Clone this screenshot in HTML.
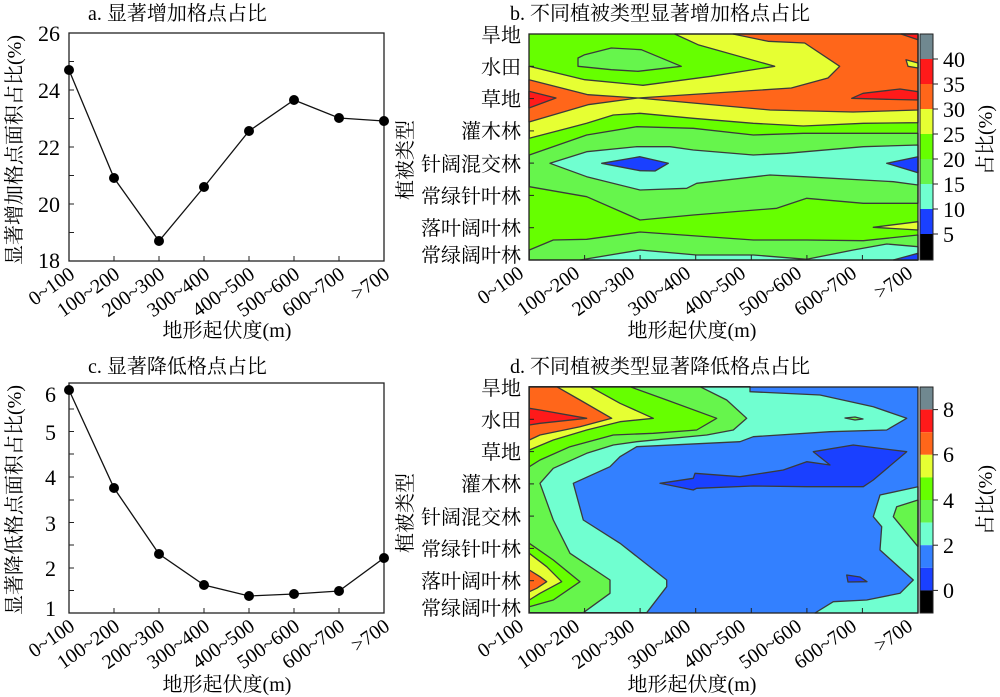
<!DOCTYPE html>
<html><head><meta charset="utf-8"><style>
html,body{margin:0;padding:0;background:#fff;}
svg{display:block;font-family:"Liberation Serif","Noto Serif CJK SC",serif;}
</style></head><body>
<svg width="1000" height="697" viewBox="0 0 1000 697" xmlns="http://www.w3.org/2000/svg">
<rect width="1000" height="697" fill="#fff"/>

<!-- ===== Panel a ===== -->
<text x="88" y="20" font-size="20">a. 显著增加格点占比</text>
<rect x="69" y="33" width="315" height="228" fill="none" stroke="#222" stroke-width="1.3"/>
<g stroke="#222" stroke-width="1">
<line x1="69" y1="61.5" x2="74" y2="61.5"/><line x1="69" y1="90" x2="74" y2="90"/><line x1="69" y1="118.5" x2="74" y2="118.5"/><line x1="69" y1="147" x2="74" y2="147"/><line x1="69" y1="175.5" x2="74" y2="175.5"/><line x1="69" y1="204" x2="74" y2="204"/><line x1="69" y1="232.5" x2="74" y2="232.5"/>
<line x1="114" y1="261" x2="114" y2="256"/><line x1="159" y1="261" x2="159" y2="256"/><line x1="204" y1="261" x2="204" y2="256"/><line x1="249" y1="261" x2="249" y2="256"/><line x1="294" y1="261" x2="294" y2="256"/><line x1="339" y1="261" x2="339" y2="256"/>
</g>
<g font-size="22" text-anchor="end">
<text x="60" y="41">26</text><text x="60" y="98">24</text><text x="60" y="155">22</text><text x="60" y="212">20</text><text x="60" y="268">18</text>
</g>
<polyline points="69,70 114,178 159,241 204,187 249,131 294,100 339,118 384,121" fill="none" stroke="#111" stroke-width="1.3"/>
<g fill="#000"><circle cx="69" cy="70" r="5"/><circle cx="114" cy="178" r="5"/><circle cx="159" cy="241" r="5"/><circle cx="204" cy="187" r="5"/><circle cx="249" cy="131" r="5"/><circle cx="294" cy="100" r="5"/><circle cx="339" cy="118" r="5"/><circle cx="384" cy="121" r="5"/></g>
<text transform="translate(21,150) rotate(-90)" font-size="20" text-anchor="middle">显著增加格点面积占比(%)</text>
<g font-size="20" text-anchor="end">
<text transform="translate(76,277) rotate(-35)">0~100</text>
<text transform="translate(121,277) rotate(-35)">100~200</text>
<text transform="translate(166,277) rotate(-35)">200~300</text>
<text transform="translate(211,277) rotate(-35)">300~400</text>
<text transform="translate(256,277) rotate(-35)">400~500</text>
<text transform="translate(301,277) rotate(-35)">500~600</text>
<text transform="translate(346,277) rotate(-35)">600~700</text>
<text transform="translate(391,277) rotate(-35)">&gt;700</text>
</g>
<text x="227" y="337" font-size="20" text-anchor="middle">地形起伏度(m)</text>

<!-- ===== Panel c ===== -->
<text x="88" y="373" font-size="20">c. 显著降低格点占比</text>
<rect x="69" y="383" width="315" height="230" fill="none" stroke="#222" stroke-width="1.3"/>
<g stroke="#222" stroke-width="1">
<line x1="69" y1="409" x2="74" y2="409"/><line x1="69" y1="431.5" x2="74" y2="431.5"/><line x1="69" y1="454" x2="74" y2="454"/><line x1="69" y1="477" x2="74" y2="477"/><line x1="69" y1="500" x2="74" y2="500"/><line x1="69" y1="522.5" x2="74" y2="522.5"/><line x1="69" y1="545" x2="74" y2="545"/><line x1="69" y1="568" x2="74" y2="568"/><line x1="69" y1="590.5" x2="74" y2="590.5"/>
<line x1="114" y1="613" x2="114" y2="608"/><line x1="159" y1="613" x2="159" y2="608"/><line x1="204" y1="613" x2="204" y2="608"/><line x1="249" y1="613" x2="249" y2="608"/><line x1="294" y1="613" x2="294" y2="608"/><line x1="339" y1="613" x2="339" y2="608"/>
</g>
<g font-size="22" text-anchor="end">
<text x="56" y="402">6</text><text x="56" y="440">5</text><text x="56" y="485">4</text><text x="56" y="531">3</text><text x="56" y="576">2</text><text x="56" y="616">1</text>
</g>
<polyline points="69,390 114,488 159,554 204,585 249,596 294,594 339,591 384,558" fill="none" stroke="#111" stroke-width="1.3"/>
<g fill="#000"><circle cx="69" cy="390" r="5"/><circle cx="114" cy="488" r="5"/><circle cx="159" cy="554" r="5"/><circle cx="204" cy="585" r="5"/><circle cx="249" cy="596" r="5"/><circle cx="294" cy="594" r="5"/><circle cx="339" cy="591" r="5"/><circle cx="384" cy="558" r="5"/></g>
<text transform="translate(21,500) rotate(-90)" font-size="20" text-anchor="middle">显著降低格点面积占比(%)</text>
<g font-size="20" text-anchor="end">
<text transform="translate(76,629) rotate(-35)">0~100</text>
<text transform="translate(121,629) rotate(-35)">100~200</text>
<text transform="translate(166,629) rotate(-35)">200~300</text>
<text transform="translate(211,629) rotate(-35)">300~400</text>
<text transform="translate(256,629) rotate(-35)">400~500</text>
<text transform="translate(301,629) rotate(-35)">500~600</text>
<text transform="translate(346,629) rotate(-35)">600~700</text>
<text transform="translate(391,629) rotate(-35)">&gt;700</text>
</g>
<text x="227" y="691" font-size="20" text-anchor="middle">地形起伏度(m)</text>

<!-- ===== Panel b ===== -->
<text x="510" y="20" font-size="20">b. 不同植被类型显著增加格点占比</text>
<g stroke="#3a3a3a" stroke-width="1.3" stroke-linejoin="round">
<rect x="529" y="34" width="389" height="226" fill="#66ff00" stroke="none"/>
<polygon fill="#e6ff33" points="674.7,34 918,34 918,122.7 863.3,123.3 803.3,126 753.3,123.3 693.3,118.3 640,113.3 613.3,115 586.7,123.3 529.3,138.3 529,66.3 584.7,79.7 643,85.3 711,76.3 774.7,66.3 698,44.7"/>
<polygon fill="#66f54c" points="578,58 584.7,54.7 611.3,48 641.3,49.7 681.3,66.3 638,71.3 611.3,69.7 578,66.3"/>
<polygon fill="#ff661a" points="733,34 918,34 918,110 853,112 770,110 693,103 638,98 714.7,93 791.3,88 828,78 839.7,66.3 804.7,43 768,41.3"/>
<polygon fill="#ff661a" points="529,79.7 588,94.7 638,98 588,104.7 529,122"/>
<polygon fill="#ff1a1a" points="529,91.3 556,98 529,108"/>
<polygon fill="#ff1a1a" points="851.7,98.3 863,93.3 900,89 918,91.7 918,100 886.7,99.3"/>
<polygon fill="#ff1a1a" points="901,34 918,39.7 918,34"/>
<polygon fill="#e6ff33" points="906,59.7 918,63 918,68 908,66.3"/>
<polygon fill="#66f54c" points="529.3,155 586.7,135 636.7,126.7 693.3,128.3 753.3,135 803.3,133.3 863.3,133.3 918,133.3 918,203.3 863.3,203.3 806.7,198.3 776.7,208.3 693.3,215 640,220 586.7,196.7 529.3,186.7"/>
<polygon fill="#70ffd0" points="550,163.3 586.7,151.7 636.7,146.7 670,146.7 693.3,150 753.3,155 786.7,153.3 863.3,146.7 918,145 918,185 893.3,181.7 863.3,180 803.3,176.7 770,175 696.7,183.3 686.7,188.3 640,190 586.7,176.7"/>
<polygon fill="#1a40ff" points="601.7,163.3 640,156.7 668.3,163.3 655,171 640,170.7"/>
<polygon fill="#1a40ff" points="886.7,163.3 918,156.7 918,172.7"/>
<polygon fill="#66f54c" points="529.3,250 553.3,240 586.7,239.3 640,232 753.3,240 806.7,240 863.3,240.7 918,235 918,260 529.3,260"/>
<polygon fill="#e6ff33" points="873.3,227.3 918,221.7 918,230"/>
<polygon fill="#70ffd0" points="580,260 640,250 696.7,255 753.3,255 806.7,259.3 853.3,250 886.7,244 918,246.7 918,260"/>
<polygon fill="#1a40ff" points="893.3,260 918,253.3 918,260"/>
</g>
<rect x="529" y="34" width="389" height="226" fill="none" stroke="#222" stroke-width="1.3"/>
<g stroke="#222" stroke-width="1">
<line x1="584.6" y1="260" x2="584.6" y2="255"/><line x1="640.1" y1="260" x2="640.1" y2="255"/><line x1="695.7" y1="260" x2="695.7" y2="255"/><line x1="751.3" y1="260" x2="751.3" y2="255"/><line x1="806.9" y1="260" x2="806.9" y2="255"/><line x1="862.4" y1="260" x2="862.4" y2="255"/>
<line x1="529" y1="66.3" x2="534" y2="66.3"/><line x1="529" y1="98.6" x2="534" y2="98.6"/><line x1="529" y1="130.9" x2="534" y2="130.9"/><line x1="529" y1="163.1" x2="534" y2="163.1"/><line x1="529" y1="195.4" x2="534" y2="195.4"/><line x1="529" y1="227.7" x2="534" y2="227.7"/>
</g>
<g font-size="20" text-anchor="end">
<text x="521" y="42">旱地</text><text x="521" y="74">水田</text><text x="521" y="106">草地</text><text x="521" y="138">灌木林</text><text x="521" y="171">针阔混交林</text><text x="521" y="203">常绿针叶林</text><text x="521" y="235">落叶阔叶林</text><text x="521" y="262">常绿阔叶林</text>
</g>
<text transform="translate(412,160) rotate(-90)" font-size="20" text-anchor="middle">植被类型</text>
<g font-size="20" text-anchor="end">
<text transform="translate(525,276) rotate(-35)">0~100</text>
<text transform="translate(581,276) rotate(-35)">100~200</text>
<text transform="translate(636,276) rotate(-35)">200~300</text>
<text transform="translate(692,276) rotate(-35)">300~400</text>
<text transform="translate(747,276) rotate(-35)">400~500</text>
<text transform="translate(803,276) rotate(-35)">500~600</text>
<text transform="translate(858,276) rotate(-35)">600~700</text>
<text transform="translate(914,276) rotate(-35)">&gt;700</text>
</g>
<text x="692" y="337" font-size="20" text-anchor="middle">地形起伏度(m)</text>
<!-- colorbar b -->
<rect x="920" y="34" width="13" height="25" fill="#708890"/>
<rect x="920" y="59" width="13" height="25" fill="#ff1a1a"/>
<rect x="920" y="84" width="13" height="25" fill="#ff661a"/>
<rect x="920" y="109" width="13" height="25" fill="#e6ff33"/>
<rect x="920" y="134" width="13" height="25" fill="#66ff00"/>
<rect x="920" y="159" width="13" height="25" fill="#66f54c"/>
<rect x="920" y="184" width="13" height="25" fill="#70ffd0"/>
<rect x="920" y="209" width="13" height="25" fill="#1a40ff"/>
<rect x="920" y="234" width="13" height="26" fill="#000"/>
<rect x="920" y="34" width="13" height="226" fill="none" stroke="#222" stroke-width="1"/>
<g stroke="#222"><line x1="933" y1="59" x2="938" y2="59"/><line x1="933" y1="84" x2="938" y2="84"/><line x1="933" y1="109" x2="938" y2="109"/><line x1="933" y1="134" x2="938" y2="134"/><line x1="933" y1="159" x2="938" y2="159"/><line x1="933" y1="184" x2="938" y2="184"/><line x1="933" y1="209" x2="938" y2="209"/><line x1="933" y1="234" x2="938" y2="234"/></g>
<g font-size="22"><text x="943" y="67">40</text><text x="943" y="92">35</text><text x="943" y="117">30</text><text x="943" y="142">25</text><text x="943" y="167">20</text><text x="943" y="192">15</text><text x="943" y="217">10</text><text x="943" y="242">5</text></g>
<text transform="translate(992,140) rotate(-90)" font-size="20" text-anchor="middle">占比(%)</text>

<!-- ===== Panel d ===== -->
<text x="510" y="373" font-size="20">d. 不同植被类型显著降低格点占比</text>
<g stroke="#3a3a3a" stroke-width="1.3" stroke-linejoin="round">
<rect x="529" y="387" width="389" height="226" fill="#3380ff" stroke="none"/>
<polygon fill="#70ffd0" points="529.3,386.7 750,386.7 750,391.7 820,395 873.3,406.7 906.7,418.3 886.7,430 830,431.7 753.3,436.7 740,441.7 636.7,446.7 620,456.7 610,466.7 573.3,483.3 583.3,520 620,543.3 666.7,580 666.7,586.7 646.7,612.7 529.3,612.7"/>
<polygon fill="#70ffd0" points="918,486.7 880,495 873.3,516.7 881.7,526.7 880,550 913.3,580 900,593.3 866.7,600 833.3,601.7 815,613 918,613"/>
<polygon fill="#66f54c" points="918,500 896.7,506.7 893.3,516.7 918,546.7"/>
<polygon fill="#66f54c" points="529.3,386.7 700,386.7 726.7,400 746.7,418.3 733.3,430 706.7,435 636.7,441.7 613.3,445 586.7,453.3 553.3,468.3 540,483.3 553.3,520 570,553.3 610,580 610,593.3 583.3,612.7 529.3,612.7"/>
<polygon fill="#66ff00" points="529.3,386.7 630,386.7 666.7,400 716.7,418.3 696.7,430 653.3,433.3 613.3,435 570,446.7 540,460 529.3,466.7"/>
<polygon fill="#66ff00" points="529.3,543.3 553.3,560 580,581.7 553.3,600 529.3,606.7"/>
<polygon fill="#e6ff33" points="529.3,386.7 590,386.7 620,403.3 653.3,418.3 620,421.7 586.7,430 553.3,440 529.3,450"/>
<polygon fill="#e6ff33" points="529.3,553.3 546.7,566.7 561.7,581.7 540,593.3 529.3,600"/>
<polygon fill="#ff661a" points="529.3,386.7 556.7,386.7 580,400 611.7,418.3 580,426.7 540,435 529.3,440"/>
<polygon fill="#ff661a" points="529.3,570 540,576.7 546.7,581.7 536.7,588.3 529.3,591.7"/>
<polygon fill="#ff1a1a" points="529.3,408.3 540,410 586.7,418.3 540,423.3 529.3,425"/>
<polygon fill="#1a40ff" points="660,483.3 693.3,478.3 695,473.3 740,476.7 783.3,470 806.7,461.7 830,465 813.3,451.7 853.3,445 906.7,451.7 873.3,480 863.3,486.7 806.7,486.7 753.3,486 696.7,488.3 693.3,490"/>
<polygon fill="#1a40ff" points="846.7,575 860,577 867,581.7 848,582"/>
<polygon fill="#66f54c" points="845,418 855,417 863,419 855,420"/>
</g>
<rect x="529" y="387" width="389" height="226" fill="none" stroke="#222" stroke-width="1.3"/>
<g stroke="#222" stroke-width="1">
<line x1="584.6" y1="613" x2="584.6" y2="608"/><line x1="640.1" y1="613" x2="640.1" y2="608"/><line x1="695.7" y1="613" x2="695.7" y2="608"/><line x1="751.3" y1="613" x2="751.3" y2="608"/><line x1="806.9" y1="613" x2="806.9" y2="608"/><line x1="862.4" y1="613" x2="862.4" y2="608"/>
<line x1="529" y1="419.3" x2="534" y2="419.3"/><line x1="529" y1="451.6" x2="534" y2="451.6"/><line x1="529" y1="483.9" x2="534" y2="483.9"/><line x1="529" y1="516.1" x2="534" y2="516.1"/><line x1="529" y1="548.4" x2="534" y2="548.4"/><line x1="529" y1="580.7" x2="534" y2="580.7"/>
</g>
<g font-size="20" text-anchor="end">
<text x="521" y="395">旱地</text><text x="521" y="427">水田</text><text x="521" y="459">草地</text><text x="521" y="491">灌木林</text><text x="521" y="524">针阔混交林</text><text x="521" y="556">常绿针叶林</text><text x="521" y="588">落叶阔叶林</text><text x="521" y="615">常绿阔叶林</text>
</g>
<text transform="translate(412,513) rotate(-90)" font-size="20" text-anchor="middle">植被类型</text>
<g font-size="20" text-anchor="end">
<text transform="translate(525,629) rotate(-35)">0~100</text>
<text transform="translate(581,629) rotate(-35)">100~200</text>
<text transform="translate(636,629) rotate(-35)">200~300</text>
<text transform="translate(692,629) rotate(-35)">300~400</text>
<text transform="translate(747,629) rotate(-35)">400~500</text>
<text transform="translate(803,629) rotate(-35)">500~600</text>
<text transform="translate(858,629) rotate(-35)">600~700</text>
<text transform="translate(914,629) rotate(-35)">&gt;700</text>
</g>
<text x="692" y="691" font-size="20" text-anchor="middle">地形起伏度(m)</text>
<!-- colorbar d -->
<rect x="920" y="387" width="13" height="22.6" fill="#708890"/>
<rect x="920" y="409.6" width="13" height="22.6" fill="#ff1a1a"/>
<rect x="920" y="432.2" width="13" height="22.6" fill="#ff661a"/>
<rect x="920" y="454.8" width="13" height="22.6" fill="#e6ff33"/>
<rect x="920" y="477.4" width="13" height="22.6" fill="#66ff00"/>
<rect x="920" y="500" width="13" height="22.6" fill="#66f54c"/>
<rect x="920" y="522.6" width="13" height="22.6" fill="#70ffd0"/>
<rect x="920" y="545.2" width="13" height="22.6" fill="#3380ff"/>
<rect x="920" y="567.8" width="13" height="22.6" fill="#1a40ff"/>
<rect x="920" y="590.4" width="13" height="22.6" fill="#000"/>
<rect x="920" y="387" width="13" height="226" fill="none" stroke="#222" stroke-width="1"/>
<g stroke="#222"><line x1="933" y1="409.6" x2="938" y2="409.6"/><line x1="933" y1="454.8" x2="938" y2="454.8"/><line x1="933" y1="500" x2="938" y2="500"/><line x1="933" y1="545.2" x2="938" y2="545.2"/><line x1="933" y1="590.4" x2="938" y2="590.4"/></g>
<g font-size="22"><text x="943" y="417">8</text><text x="943" y="462">6</text><text x="943" y="508">4</text><text x="943" y="553">2</text><text x="943" y="598">0</text></g>
<text transform="translate(992,500) rotate(-90)" font-size="20" text-anchor="middle">占比(%)</text>
</svg>
</body></html>
